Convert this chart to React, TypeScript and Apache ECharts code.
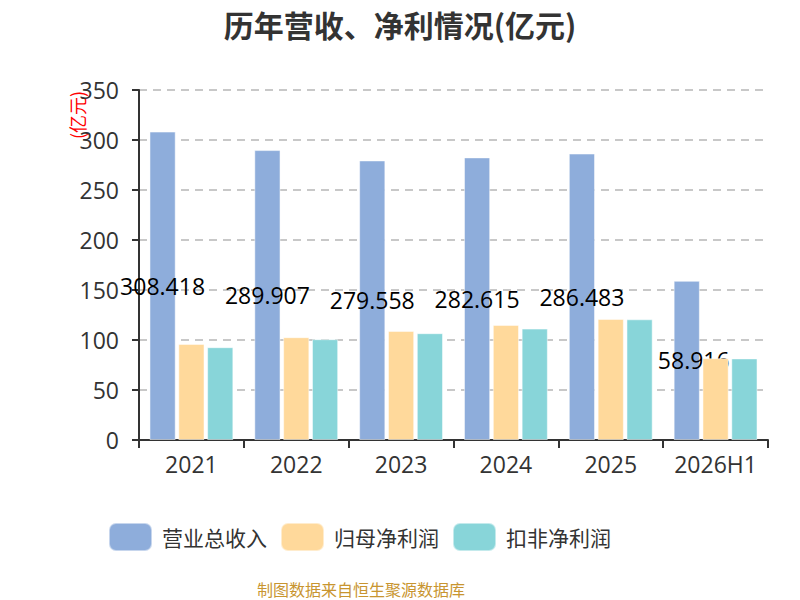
import React, { useEffect, useRef } from "react";
import * as echarts from "echarts";

const categories = ["2021", "2022", "2023", "2024", "2025", "2026H1"];
const revenue = [308.418, 289.907, 279.558, 282.615, 286.483, 159.2];
const revenueLabels = ["308.418", "289.907", "279.558", "282.615", "286.483", "58.916"];
const netProfit = [96.1, 102.8, 109.1, 115.1, 121.1, 81.8];
const deductedProfit = [92.8, 100.8, 106.8, 111.4, 120.7, 81.6];
const seriesNames = ["营业总收入", "归母净利润", "扣非净利润"];

const FONT = "'Noto Sans CJK SC', 'Noto Sans', sans-serif";
const NUM_FONT = "'Open Sans', 'Noto Sans CJK SC', sans-serif";

export default function App() {
  const ref = useRef<HTMLDivElement>(null);
  useEffect(() => {
    document.body.style.margin = "0";
    const chart = echarts.init(ref.current!, null, { renderer: "svg" });
    chart.setOption({
      animation: false,
      textStyle: { fontFamily: FONT },
      title: {
        text: "历年营收、净利情况(亿元)",
        left: "center",
        top: 4,
        textStyle: { fontSize: 30, fontWeight: "bold", color: "#333", fontFamily: FONT },
      },
      legend: {
        data: seriesNames,
        left: 103,
        top: 517,
        itemWidth: 43,
        itemHeight: 28,
        itemGap: 13,
        icon: "roundRect",
        textStyle: { fontSize: 21, color: "#333", padding: [0, 0, 0, 5], fontFamily: FONT },
      },
      grid: { left: 139, right: 32, top: 90, bottom: 160, containLabel: false },
      xAxis: {
        type: "category",
        data: categories,
        axisLine: { lineStyle: { color: "#333", width: 2 } },
        axisTick: { show: true, length: 8, lineStyle: { color: "#333", width: 2 } },
        axisLabel: { interval: 0, fontSize: 23, color: "#333", margin: 12, fontFamily: NUM_FONT },
      },
      yAxis: {
        type: "value",
        min: 0,
        max: 350,
        interval: 50,
        axisLine: { show: true, lineStyle: { color: "#333", width: 2 } },
        axisTick: { show: true, length: 7, lineStyle: { color: "#333", width: 2 } },
        axisLabel: { fontSize: 23, color: "#333", margin: 20, fontFamily: NUM_FONT },
        splitLine: { lineStyle: { type: [8, 6], color: "#c8c8c8", width: 2 } },
      },
      graphic: [
        {
          type: "text",
          x: 77,
          y: 115,
          rotation: Math.PI / 2,
          style: {
            text: "(亿元)",
            fill: "#ff0000",
            fontSize: 18,
            fontFamily: FONT,
            textAlign: "center",
            textVerticalAlign: "middle",
          },
        },
        {
          type: "text",
          x: 361,
          y: 589,
          style: {
            text: "制图数据来自恒生聚源数据库",
            fill: "#c89530",
            fontSize: 16,
            fontFamily: FONT,
            textAlign: "center",
            textVerticalAlign: "middle",
          },
        },
      ],
      series: [
        {
          name: seriesNames[0],
          type: "bar",
          barGap: "10%",
          barCategoryGap: "20%",
          z: 2,
          itemStyle: { color: "#8eaddb", borderColor: "rgba(255,255,255,0.5)", borderWidth: 1 },
          label: {
            show: true,
            position: "inside",
            color: "#000",
            fontSize: 23,
            fontFamily: NUM_FONT,
            formatter: (p: any) => revenueLabels[p.dataIndex],
          },
          data: revenue.map((v, i) =>
            i === 5 ? { value: v, label: { offset: [7, 0] } } : v
          ),
        },
        {
          name: seriesNames[1],
          type: "bar",
          z: 3,
          itemStyle: { color: "#ffd99b", borderColor: "rgba(255,255,255,0.5)", borderWidth: 1 },
          data: netProfit,
        },
        {
          name: seriesNames[2],
          type: "bar",
          z: 3,
          itemStyle: { color: "#88d5d9", borderColor: "rgba(255,255,255,0.5)", borderWidth: 1 },
          data: deductedProfit,
        },
      ],
    });
    return () => chart.dispose();
  }, []);
  return <div ref={ref} style={{ width: 800, height: 600 }} />;
}
